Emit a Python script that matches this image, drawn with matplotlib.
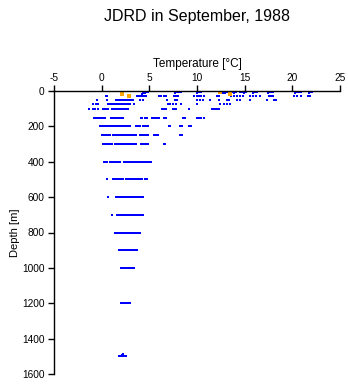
import matplotlib
matplotlib.use("Agg")
import matplotlib.pyplot as plt

plt.rcParams["font.family"] = ["Liberation Sans", "DejaVu Sans"]
plt.rcParams["axes.unicode_minus"] = False

# near-surface casts (temperature, depth)
surf_temp = [4.2, 4.35, 4.5, 4.6, 4.75, 4.9, 7.7, 7.9, 8.1, 8.3, 8.5,
             10.0, 10.2, 10.4, 10.5, 12.7, 12.9, 13.1, 13.3, 13.5, 13.7,
             13.9, 14.1, 14.3, 14.5, 14.7, 14.9, 15.1, 15.9, 16.1, 16.3,
             16.6, 17.4, 17.6, 17.8, 18.0, 18.2, 18.4, 20.3, 20.5, 20.7,
             20.9, 21.7, 21.9, 22.1]
surf_depth = [15, 12, 10, 8, 5, 3, 12, 8, 5, 3, 2,
              10, 6, 3, 2, 12, 10, 6, 4, 8, 3,
              10, 5, 2, 8, 4, 10, 3, 10, 6, 3,
              2, 10, 8, 5, 3, 2, 1, 12, 8, 5,
              3, 10, 6, 3]

t_30 = [0.45, 0.6, 3.7, 3.85, 4.0, 4.15, 4.3, 4.4, 4.55, 4.7, 6.0, 6.2,
        6.5, 6.8, 7.55, 7.8, 8.05, 9.7, 9.95, 10.2, 10.45, 10.7, 12.1,
        12.3, 13.6, 13.9, 14.2, 14.5, 14.8, 15.6, 15.9, 16.2, 16.6, 17.5,
        17.8, 18.0, 20.2, 20.5, 20.9, 21.6, 21.9]
t_50 = [-0.52, 0.53, 1.5, 1.65, 1.8, 1.95, 2.1, 2.25, 2.4, 2.55, 2.7,
        2.85, 3.0, 3.15, 3.3, 4.05, 4.3, 6.84, 7.7, 7.9, 10.0, 10.3, 10.6,
        11.4, 12.28, 13.16, 13.4, 14.2, 14.5, 15.6, 17.36, 18.06, 18.3]
t_75 = [-0.87, -0.6, -0.34, 0.7, 0.85, 1.0, 1.15, 1.3, 1.45, 1.6, 1.75,
        1.9, 2.05, 2.2, 2.35, 2.5, 2.65, 2.8, 2.95, 3.34, 7.0, 7.2, 7.5,
        7.8, 8.35, 10.0, 12.46, 12.8, 13.16, 13.5]
t_100 = [-1.32, -0.87, -0.65, -0.34, 0.18, 0.35, 0.53, 0.71, 1.1, 1.25,
         1.4, 1.55, 1.7, 1.85, 2.0, 2.15, 2.3, 2.45, 2.6, 2.81, 6.32, 6.5,
         6.74, 7.47, 7.65, 7.82, 9.12, 11.58, 11.75, 11.9, 12.1, 12.28]
t_150 = [-0.8, -0.65, -0.5, -0.35, -0.2, -0.05, 0.1, 0.25, 0.36, 1.0,
         1.15, 1.3, 1.45, 1.6, 1.75, 1.9, 2.05, 2.2, 4.11, 4.21, 4.56,
         4.74, 5.26, 5.4, 5.55, 5.7, 5.85, 6.04, 6.49, 6.74, 8.53, 8.7,
         10.0, 10.2, 10.4, 10.7]
t_200 = [-0.17, 0.0, 0.15, 0.3, 0.45, 0.6, 0.75, 0.88, 1.0, 1.15, 1.3,
         1.45, 1.6, 1.75, 1.9, 2.05, 2.2, 2.35, 2.5, 2.65, 2.8, 2.95, 3.62,
         3.8, 4.04, 4.32, 4.5, 4.7, 4.91, 7.02, 7.19, 8.25, 8.42, 9.12,
         9.37]
t_250 = [0.0, 0.15, 0.3, 0.45, 0.6, 0.75, 0.88, 1.16, 1.3, 1.45, 1.6,
         1.75, 1.9, 2.05, 2.2, 2.35, 2.5, 2.65, 2.8, 2.95, 3.1, 3.25, 3.4,
         3.62, 4.04, 4.2, 4.35, 4.5, 4.65, 4.81, 5.54, 5.7, 5.85, 5.96,
         8.25, 8.42]
t_300 = [0.11, 0.25, 0.4, 0.55, 0.7, 0.85, 1.06, 1.41, 1.55, 1.7, 1.93,
         2.11, 2.25, 2.4, 2.55, 2.7, 2.85, 3.0, 3.15, 3.3, 3.45, 3.62,
         4.11, 4.25, 4.4, 4.55, 4.7, 4.91, 6.49, 6.67]
t_400 = [0.25, 0.4, 0.53, 0.88, 1.0, 1.15, 1.3, 1.45, 1.6, 1.75, 1.93,
         2.39, 2.55, 2.7, 2.85, 3.0, 3.15, 3.34, 3.51, 3.65, 3.8, 3.95,
         4.1, 4.21, 4.49, 4.67, 4.91, 5.05, 5.16]
t_500 = [0.53, 1.16, 1.3, 1.45, 1.6, 1.75, 1.9, 2.05, 2.22, 2.53, 2.65,
         2.8, 2.95, 3.1, 3.25, 3.4, 3.55, 3.7, 3.85, 4.0, 4.21, 4.56,
         4.74]
t_600 = [0.71, 1.51, 1.65, 1.8, 1.95, 2.11, 2.39, 2.55, 2.7, 2.85, 3.0,
         3.15, 3.3, 3.45, 3.6, 3.75, 3.9, 4.05, 4.2, 4.32]
t_700 = [1.06, 1.62, 1.77, 1.92, 2.07, 2.22, 2.37, 2.52, 2.67, 2.82,
         2.97, 3.12, 3.27, 3.42, 3.57, 3.72, 3.87, 4.02, 4.17, 4.32]
t_800 = [1.41, 1.55, 1.7, 1.85, 2.0, 2.15, 2.3, 2.45, 2.6, 2.75, 2.9,
         3.05, 3.2, 3.35, 3.5, 3.65, 3.8, 3.92, 4.04]
t_900 = [1.83, 1.97, 2.11, 2.25, 2.4, 2.55, 2.7, 2.85, 3.0, 3.15, 3.3,
         3.45, 3.58, 3.69]
t_1000 = [2.04, 2.18, 2.32, 2.46, 2.6, 2.75, 2.9, 3.05, 3.2, 3.3, 3.41]
t_1200 = [2.04, 2.18, 2.32, 2.46, 2.6, 2.75, 2.88, 2.99]
t_1500 = [1.86, 2.0, 2.1, 2.2, 2.3, 2.42, 2.56, 2.15, 2.25, 2.2]
d_1500 = [1500, 1500, 1500, 1500, 1500, 1500, 1500, 1494, 1494, 1488]

row_depths = [30, 50, 75, 100, 150, 200, 250, 300, 400, 500, 600, 700,
              800, 900, 1000, 1200]
row_temps = [t_30, t_50, t_75, t_100, t_150, t_200, t_250, t_300, t_400,
             t_500, t_600, t_700, t_800, t_900, t_1000, t_1200]

# flagged samples shown in orange
flag_temp = [2.1, 2.9, 12.45, 13.5]
flag_depth = [19, 28, 4, 19]

x_ticks = [-5, 0, 5, 10, 15, 20, 25]
y_ticks = [0, 200, 400, 600, 800, 1000, 1200, 1400, 1600]

fig = plt.figure(figsize=(3.48, 3.84), dpi=100)
ax = fig.add_axes([54 / 348, 1 - 374 / 384, 286 / 348, 283 / 384])

mk = dict(ls="none", marker="s", ms=2.1, mew=0, color="#0000ff",
          antialiased=False)
ax.plot(surf_temp, surf_depth, **mk)
for d, temps in zip(row_depths, row_temps):
    ax.plot(temps, [d] * len(temps), **mk)
ax.plot(t_1500, d_1500, **mk)
ax.plot(flag_temp, flag_depth, ls="none", marker="s", ms=2.4, mew=0,
        color="#ffa500", antialiased=False)

ax.set_xlim(-5, 25)
ax.set_ylim(1600, 0)
ax.set_xticks(x_ticks)
ax.set_yticks(y_ticks)
ax.xaxis.tick_top()
ax.xaxis.set_label_position("top")
for s in ["right", "bottom"]:
    ax.spines[s].set_visible(False)
for s in ["top", "left"]:
    ax.spines[s].set_linewidth(1.0)
ax.tick_params(axis="x", direction="out", length=4, width=1, labelsize=7.3, pad=2)
ax.tick_params(axis="y", direction="out", length=4, width=1, labelsize=7.3, pad=3)
ax.set_xlabel("Temperature [°C]", fontsize=8.5, labelpad=4)
ax.set_ylabel("Depth [m]", fontsize=8, labelpad=1)

fig.text(197 / 348, 1 - 16 / 384, "JDRD in September, 1988", ha="center",
         va="center", fontsize=11.5)

fig.savefig("out.png", dpi=100)
